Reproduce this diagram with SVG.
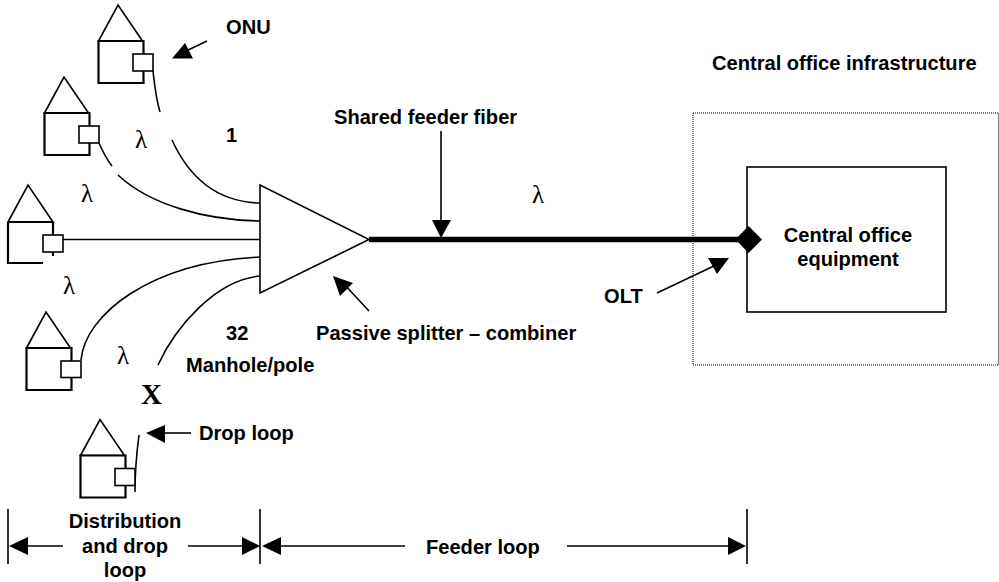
<svg xmlns="http://www.w3.org/2000/svg" width="999" height="582" viewBox="0 0 999 582">
<defs>
<style>
text{font-family:"Liberation Sans",Arial,sans-serif;font-size:20.1px;font-weight:bold;fill:#000}
.c{text-anchor:middle}
.l{font-family:"Liberation Serif","DejaVu Serif",serif;font-size:25px;font-weight:normal}
.h{fill:#fff;stroke:#000;stroke-width:1.6}
.b{fill:#fff;stroke:#000;stroke-width:2.2}
.o{fill:#fff;stroke:#000;stroke-width:1.6}
.f{fill:none;stroke:#000;stroke-width:1.6}
.a{stroke:#000;stroke-width:1.6;fill:none}
</style>
<g id="house"><path class="h" d="M0 36L19.500 0L44 36Z"/><path class="b" d="M0 36H45V78H0Z"/></g>
</defs>
<rect width="999" height="582" fill="#fff"/>
<g id="connectors">
<path class="f" d="M153 71C155 90 157 102 160 112M172 140C188 175 215 202 260 203"/>
<path class="f" d="M99 143C102 150 105 157 112 166M118 175C150 205 205 220 260 221"/>
<path class="f" d="M63 239.500H260"/>
<path class="f" d="M81 360C85 315 150 262 260 257"/>
<path class="f" d="M158 365C175 328 215 280 260 276"/>
<path class="f" d="M135 492C135 470 137 450 139 435"/>
<path d="M369 239.500H745" stroke="#000" stroke-width="5.500" fill="none"/>
<g id="arrows">
<path class="a" d="M441 131V222"/><path d="M432 220H451L441 238Z"/>
<path class="a" d="M207 41L186 51"/><path d="M172 58.500H193L185 43Z"/>
<path class="a" d="M369 311L343 283"/><path d="M333 276L353 283L340 296Z"/>
<path class="a" d="M657 293L716 265"/><path d="M708 258H729L717 274Z"/>
<path class="a" d="M191 433H164"/><path d="M146 433L165 425V443Z"/>
<path class="a" d="M63 546H27"/><path d="M9 546L28 537V555Z"/>
<path class="a" d="M188 546H243"/><path d="M260 546L242 537V555Z"/>
<path class="a" d="M405 546H280"/><path d="M262 546L281 537V555Z"/>
<path class="a" d="M567 546H729"/><path d="M746 546L728 537V555Z"/>
<path class="a" d="M8 509V564M260 509V564M747 509V564"/>
</g>
</g>
<g id="splitter"><path class="h" d="M260 185L369 239.500L260 293Z"/></g>
<g id="onu1"><use href="#house" x="98.500" y="5"/><rect class="o" x="133" y="54" width="20" height="17"/></g>
<g id="onu2"><use href="#house" x="44.500" y="77"/><rect class="o" x="79" y="126" width="20" height="17"/></g>
<g id="onu3"><path class="h" d="M8 222L28 185L53 222Z"/><path d="M53 222V256M8 222H53M8 222V263H43" fill="none" stroke="#000" stroke-width="2.200"/><rect class="o" x="43" y="235" width="20" height="17"/></g>
<g id="onu4"><use href="#house" x="26.500" y="312"/><rect class="o" x="61" y="361" width="20" height="16.500"/></g>
<g id="onu5"><use href="#house" x="80.500" y="419.500"/><rect class="o" x="115" y="468.500" width="20" height="17"/></g>
<g id="central-office-infrastructure"><rect x="693" y="113" width="305.500" height="252" fill="none" stroke="#000" stroke-width="1" stroke-dasharray="1 1"/></g>
<g id="central-office-equipment"><rect x="747" y="167" width="199" height="145" fill="#fff" stroke="#000" stroke-width="1.600"/><text class="c" x="848" y="242">Central office</text><text class="c" x="848" y="266">equipment</text></g>
<g id="olt"><path d="M748.500 226L762 239.500L748.500 253L735.500 239.500Z"/></g>
<g id="labels">
<text x="226" y="34">ONU</text>
<text x="226" y="142">1</text>
<text x="334" y="124">Shared feeder fiber</text>
<text x="712" y="70">Central office infrastructure</text>
<text x="226" y="340">32</text>
<text x="186" y="372">Manhole/pole</text>
<text x="316" y="340">Passive splitter – combiner</text>
<text x="604" y="303">OLT</text>
<text x="199" y="440">Drop loop</text>
<text class="c" x="125" y="528">Distribution</text>
<text class="c" x="125" y="553">and drop</text>
<text class="c" x="125" y="577">loop</text>
<text x="426" y="554">Feeder loop</text>
<text class="l" x="135" y="148">λ</text>
<text class="l" x="81" y="202">λ</text>
<text class="l" x="63" y="294">λ</text>
<text class="l" x="117" y="364">λ</text>
<text class="l" x="532" y="203">λ</text>
<text x="141" y="404" style="font-family:'Liberation Serif',serif;font-size:29px">X</text>
</g>
</svg>
